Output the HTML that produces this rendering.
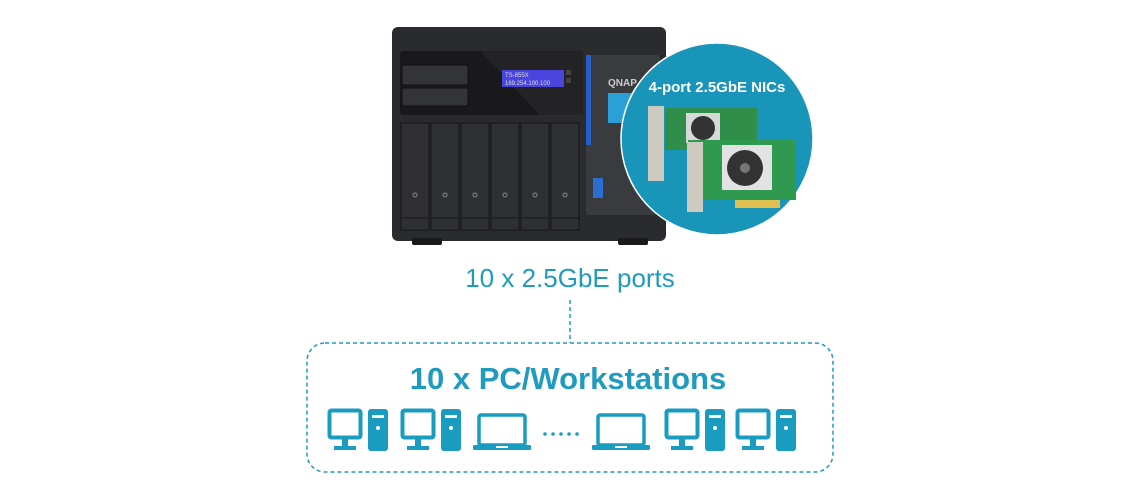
<!DOCTYPE html>
<html><head><meta charset="utf-8"><style>
html,body{margin:0;padding:0;background:#fff;}
svg{display:block;}
text{font-family:"Liberation Sans","DejaVu Sans",sans-serif;}
</style></head><body>
<svg width="1140" height="500" viewBox="0 0 1140 500" xmlns="http://www.w3.org/2000/svg">
<!-- NAS -->
<rect x="392" y="27" width="274" height="214" rx="6" fill="#2a2b2e"/>
<rect x="412" y="238" width="30" height="7" rx="2" fill="#1a1a1a"/>
<rect x="618" y="238" width="30" height="7" rx="2" fill="#1a1a1a"/>
<rect x="400" y="51" width="183" height="64" rx="3" fill="#19191b"/>
<polygon points="480,51 583,51 583,115 540,115" fill="#232326"/>
<rect x="402" y="65" width="66" height="20" rx="2" fill="#333437" stroke="#111" />
<rect x="402" y="88" width="66" height="18" rx="2" fill="#333437" stroke="#111"/>
<rect x="502" y="70" width="62" height="17" fill="#4b45e0"/>
<text x="505" y="77" font-size="6" fill="#ddd">TS-855X</text>
<text x="505" y="85" font-size="6" fill="#ddd">169.254.100.100</text>
<rect x="566" y="70" width="5" height="5" fill="#444"/>
<rect x="566" y="78" width="5" height="5" fill="#444"/>
<g fill="#2f3033" stroke="#161616">
<rect x="401" y="123" width="28" height="95"/><rect x="431" y="123" width="28" height="95"/>
<rect x="461" y="123" width="28" height="95"/><rect x="491" y="123" width="28" height="95"/>
<rect x="521" y="123" width="28" height="95"/><rect x="551" y="123" width="28" height="95"/>
<rect x="401" y="218" width="28" height="12"/><rect x="431" y="218" width="28" height="12"/>
<rect x="461" y="218" width="28" height="12"/><rect x="491" y="218" width="28" height="12"/>
<rect x="521" y="218" width="28" height="12"/><rect x="551" y="218" width="28" height="12"/>
</g>
<g fill="none" stroke="#888" stroke-width="1">
<circle cx="415" cy="195" r="2"/><circle cx="445" cy="195" r="2"/><circle cx="475" cy="195" r="2"/>
<circle cx="505" cy="195" r="2"/><circle cx="535" cy="195" r="2"/><circle cx="565" cy="195" r="2"/>
</g>
<rect x="586" y="55" width="74" height="160" rx="3" fill="#3a3b3e"/>
<rect x="586" y="55" width="5" height="90" fill="#2460c8"/>
<text x="608" y="86" font-size="10" font-weight="bold" fill="#ccc">QNAP</text>
<rect x="608" y="93" width="30" height="30" fill="#2a9fd8"/>
<rect x="593" y="178" width="10" height="20" fill="#2a6fd0"/>
<!-- circle -->
<circle cx="717" cy="139" r="96" fill="#1895b9" stroke="#ffffff" stroke-width="1.5"/>
<text x="717" y="92" font-size="15" fill="#fff" text-anchor="middle" font-weight="bold">4-port 2.5GbE NICs</text>
<rect x="665" y="108" width="92" height="42" fill="#2f8e4a"/>
<rect x="686" y="113" width="34" height="30" fill="#d8d8d8"/>
<circle cx="703" cy="128" r="12" fill="#333"/>
<rect x="648" y="106" width="16" height="75" fill="#cfcac0"/>
<rect x="688" y="140" width="108" height="60" fill="#2f9a4f"/>
<rect x="722" y="145" width="50" height="45" fill="#e2e2e2"/>
<circle cx="745" cy="168" r="18" fill="#333"/>
<circle cx="745" cy="168" r="5" fill="#777"/>
<rect x="687" y="142" width="16" height="70" fill="#cfcac0"/>
<rect x="735" y="200" width="45" height="8" fill="#e0c050"/>
<!-- label -->
<text x="570" y="287" font-size="26" fill="#1f9bc0" text-anchor="middle">10 x 2.5GbE ports</text>
<line x1="570" y1="300" x2="570" y2="343" stroke="#1f9bc0" stroke-width="1.5" stroke-dasharray="4,3"/>
<rect x="307" y="343" width="526" height="129" rx="18" fill="none" stroke="#1f9bc0" stroke-width="1.5" stroke-dasharray="4,3"/>
<text x="568" y="389" font-size="31" font-weight="bold" fill="#1f9bc0" text-anchor="middle">10 x PC/Workstations</text>
<defs>
<g id="pc">
<rect x="1.5" y="1.5" width="31" height="27" rx="2" fill="none" stroke="#1a9bc0" stroke-width="4"/>
<rect x="14" y="29" width="6" height="8" fill="#1a9bc0"/>
<rect x="6" y="37" width="22" height="4" fill="#1a9bc0"/>
<rect x="40" y="0" width="20" height="42" rx="3" fill="#1a9bc0"/>
<rect x="44" y="6" width="12" height="3" fill="#fff"/>
<circle cx="50" cy="19" r="2" fill="#fff"/>
</g>
<g id="lap">
<rect x="6" y="2" width="46" height="30" rx="2" fill="none" stroke="#1a9bc0" stroke-width="3.5"/>
<rect x="0" y="32" width="58" height="5" rx="1.5" fill="#1a9bc0"/>
<rect x="23" y="33" width="12" height="2" fill="#fff"/>
</g>
</defs>
<use href="#pc" x="328" y="409"/>
<use href="#pc" x="401" y="409"/>
<use href="#lap" x="473" y="413"/>
<g fill="#1a9bc0"><circle cx="545" cy="434" r="1.8"/><circle cx="553" cy="434" r="1.8"/><circle cx="561" cy="434" r="1.8"/><circle cx="569" cy="434" r="1.8"/><circle cx="577" cy="434" r="1.8"/></g>
<use href="#lap" x="592" y="413"/>
<use href="#pc" x="665" y="409"/>
<use href="#pc" x="736" y="409"/>
</svg>
</body></html>
